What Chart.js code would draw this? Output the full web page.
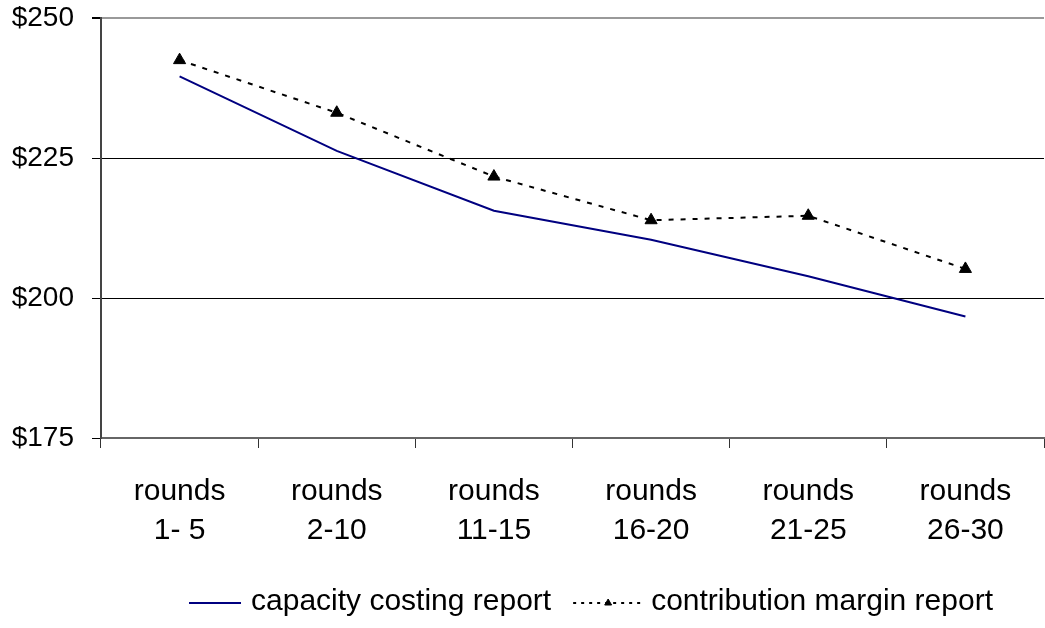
<!DOCTYPE html>
<html>
<head>
<meta charset="utf-8">
<script src="https://cdn.jsdelivr.net/npm/chart.js@4.4.1/dist/chart.umd.min.js"></script>
<style>
  html, body { margin: 0; padding: 0; background: #fff; overflow: hidden; }
  #wrap { position: relative; width: 1052px; height: 628px; }
  #chart { display: block; }
</style>
</head>
<body>
<div id="wrap"><canvas id="chart" width="1052" height="628"></canvas></div>
<script>
// Category labels (two lines each)
const categories = [
  ['rounds', '1- 5'],
  ['rounds', '2-10'],
  ['rounds', '11-15'],
  ['rounds', '16-20'],
  ['rounds', '21-25'],
  ['rounds', '26-30']
];

// Series values in dollars
const capacityCosting = [239.6, 226.3, 215.6, 210.4, 203.9, 196.7];
const contributionMargin = [242.5, 233.1, 221.7, 213.9, 214.7, 205.2];

// Value axis range and tick step
const yMin = 175;
const yMax = 250;
const yStep = 25;

const FONT = '"Liberation Sans", Arial, sans-serif';

// Legend with a line sample (and marker) before each label
const lineLegend = {
  id: 'lineLegend',
  afterDraw(chart) {
    const ctx = chart.ctx;
    const sets = chart.data.datasets;
    ctx.save();
    ctx.font = '30px ' + FONT;
    ctx.textBaseline = 'middle';
    ctx.textAlign = 'left';
    const sampleW = [52, 70];
    const gapAfterSample = [10, 8];
    const gapBetween = 22;
    let total = 0;
    sets.forEach((ds, i) => {
      total += sampleW[i] + gapAfterSample[i] + ctx.measureText(ds.label).width;
      if (i < sets.length - 1) total += gapBetween;
    });
    let x = 591 - total / 2;
    const y = 602;
    sets.forEach((ds, i) => {
      ctx.save();
      ctx.strokeStyle = ds.borderColor;
      ctx.lineWidth = 2;
      ctx.setLineDash(ds.borderDash ? [3, 5] : []);
      ctx.beginPath();
      ctx.moveTo(x, y + 1);
      ctx.lineTo(x + sampleW[i], y + 1);
      ctx.stroke();
      ctx.restore();
      if (ds.pointRadius > 0) {
        ctx.save();
        ctx.fillStyle = ds.pointBackgroundColor;
        ctx.strokeStyle = ds.pointBorderColor;
        ctx.lineWidth = 1;
        Chart.helpers.drawPoint(ctx, {
          pointStyle: ds.pointStyle,
          radius: 4,
          borderWidth: 1,
          rotation: 0
        }, x + sampleW[i] / 2, y + 1);
        ctx.restore();
      }
      x += sampleW[i] + gapAfterSample[i];
      ctx.fillStyle = '#000';
      ctx.fillText(ds.label, x, y);
      x += ctx.measureText(ds.label).width + gapBetween;
    });
    ctx.restore();
  }
};

new Chart(document.getElementById('chart'), {
  type: 'line',
  data: {
    labels: categories,
    datasets: [
      {
        label: 'capacity costing report',
        data: capacityCosting,
        borderColor: '#000080',
        borderWidth: 2,
        pointRadius: 0,
        fill: false,
        tension: 0
      },
      {
        label: 'contribution margin report',
        data: contributionMargin,
        borderColor: '#000',
        borderWidth: 2,
        borderDash: [5, 7],
        pointStyle: 'triangle',
        pointRadius: 7,
        pointBackgroundColor: '#000',
        pointBorderColor: '#000',
        pointBorderWidth: 1,
        fill: false,
        tension: 0
      }
    ]
  },
  options: {
    responsive: false,
    animation: false,
    devicePixelRatio: 1,
    layout: { padding: { top: 0, right: 3, bottom: 0, left: 0 } },
    plugins: {
      legend: { display: false },
      tooltip: { enabled: false }
    },
    scales: {
      x: {
        type: 'category',
        offset: true,
        grid: {
          offset: true,
          drawOnChartArea: false,
          drawTicks: true,
          tickLength: 10,
          tickColor: '#333',
          tickWidth: 1
        },
        border: { display: true, color: '#666', width: 2 },
        ticks: {
          color: '#000',
          font: { family: FONT, size: 30, lineHeight: 1.3 },
          padding: 24,
          maxRotation: 0,
          autoSkip: false
        },
        afterFit(scale) { scale.height = 190; }
      },
      y: {
        min: yMin,
        max: yMax,
        grid: {
          color: (c) => c.tick.value === yMax ? '#999' : (c.tick.value === yMin ? 'rgba(0,0,0,0)' : '#000'),
          lineWidth: (c) => c.tick.value === yMax ? 2 : 1,
          tickColor: '#000',
          tickLength: 9,
          drawTicks: true
        },
        border: { display: true, color: '#444', width: 2 },
        ticks: {
          stepSize: yStep,
          color: '#000',
          font: { family: FONT, size: 28, lineHeight: 0.01 },
          padding: 18,
          callback: (v) => '$' + v
        },
        afterFit(scale) { scale.width = 101; }
      }
    }
  },
  plugins: [lineLegend]
});
</script>
</body>
</html>
